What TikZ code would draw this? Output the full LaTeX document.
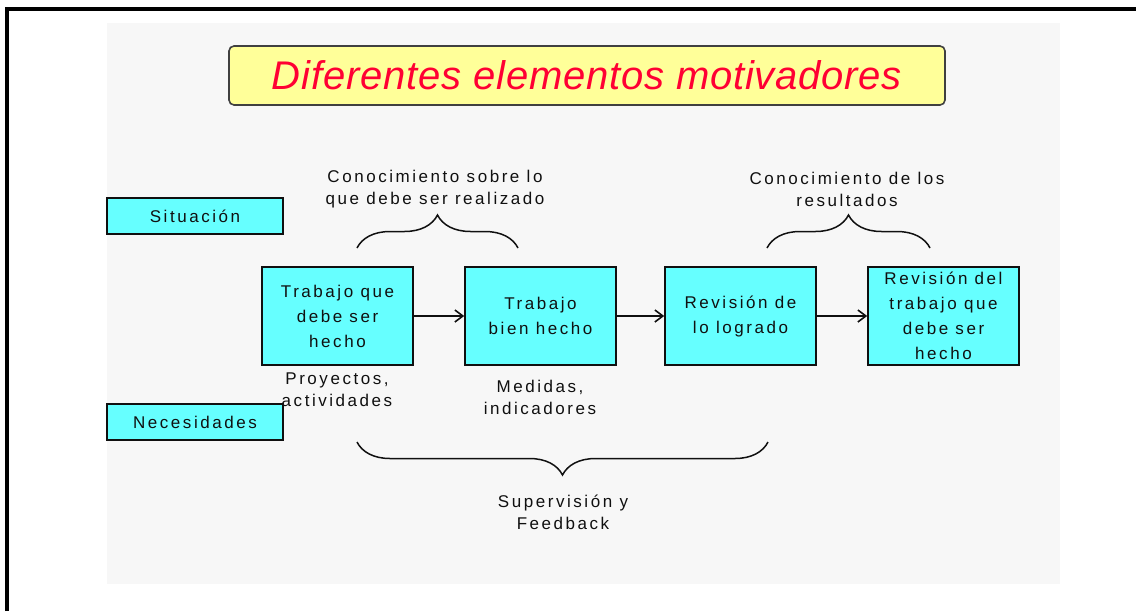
\documentclass[tikz,border=0pt]{standalone}
\usepackage{fontspec}
\newfontfamily\boxfont{Liberation Sans}[LetterSpace=15]
\newfontfamily\titlefont{Liberation Sans}[LetterSpace=2]
\usepackage{tikz}
\usetikzlibrary{arrows.meta,positioning,decorations.pathreplacing}

\definecolor{panelgray}{HTML}{F7F7F7}
\definecolor{boxcyan}{HTML}{66FFFF}
\definecolor{titleyellow}{HTML}{FFFF99}
\definecolor{titlered}{HTML}{FF0033}
\definecolor{ink}{HTML}{101010}

\begin{document}
\begin{tikzpicture}[x=1pt,y=-1pt,
	stage/.style={rectangle,draw=ink,line width=1.6pt,fill=boxcyan,minimum width=151pt,minimum height=98pt,inner sep=0pt,align=center,text=ink,font=\boxfont\fontsize{17}{25}\selectfont},
	side/.style={rectangle,draw=ink,line width=1.6pt,fill=boxcyan,minimum width=176pt,minimum height=36pt,inner sep=0pt,text=ink,font=\boxfont\fontsize{17}{22}\selectfont},
	heading/.style={rectangle,rounded corners=5pt,draw=ink!80,line width=1.6pt,fill=titleyellow,minimum width=716pt,minimum height=59pt,text=titlered,font=\titlefont\itshape\fontsize{40}{44}\selectfont},
	note/.style={align=center,text=ink,inner sep=0pt,font=\boxfont\fontsize{17}{22}\selectfont},
	paths/.style={-{Straight Barb[length=8pt,width=12pt]},draw=ink,line width=1.6pt},
	brace/.style={decorate,decoration={brace,amplitude=33pt},draw=ink,line width=1.5pt}
	] % End of styles

\useasboundingbox (0,0) rectangle (1136,611);

% frame and panel
\fill[panelgray] (107,23) rectangle (1060,584);
\draw[line width=3.5pt,black] (7,611) -- (7,9) -- (1136,9);

% title
\node [heading] at (587,75.5) (title) {Diferentes elementos motivadores};

% left labels
\node [side] at (195,216) (sit) {Situación};
\node [side] at (195,422) (nec) {Necesidades};

% process boxes
\node [stage] at (337.5,316) (work) {Trabajo que\\debe ser\\hecho};
\node [stage] at (540.5,316) (done) {Trabajo\\bien hecho};
\node [stage] at (740.5,316) (rev) {Revisión de\\lo logrado};
\node [stage] at (943.5,316) (revwork) {Revisión del\\trabajo que\\debe ser\\hecho};

% paths
\draw[paths] (work) -- (done);
\draw[paths] (done) -- (rev);
\draw[paths] (rev) -- (revwork);

% notes under the boxes
\node [note] at (337,390) (proj) {Proyectos,\\actividades};
\node [note] at (540,397) (meas) {Medidas,\\indicadores};

% braces and their texts
\coordinate (kl) at (357,248);
\coordinate (kr) at (518,248);
\coordinate (rl) at (767,248);
\coordinate (rr) at (930,248);
\coordinate (sl) at (357,442);
\coordinate (sr) at (768,442);

\draw[brace] (kl) -- (kr);
\draw[brace] (rl) -- (rr);
\draw[brace] (sr) -- (sl);

\node [note] at (435,189) (know) {Conocimiento sobre lo\\que debe ser realizado};
\node [note] at (847,189) (res) {Conocimiento de los\\resultados};
\node [note] at (563,512) (sup) {Supervisión y\\Feedback};

\end{tikzpicture}
\end{document}
